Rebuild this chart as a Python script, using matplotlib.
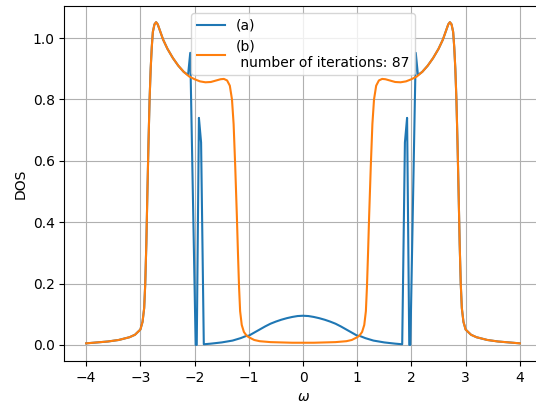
import numpy as np
import matplotlib.pyplot as plt

# left half (omega <= 0); curves are symmetric in omega
w_b = [-4.00, -3.80, -3.60, -3.40, -3.20, -3.10, -3.00, -2.96, -2.93, -2.91,
       -2.89, -2.87, -2.85, -2.83, -2.81, -2.79, -2.77, -2.74, -2.71, -2.68,
       -2.64, -2.58, -2.50, -2.40, -2.30, -2.20, -2.10, -2.00, -1.90, -1.80,
       -1.70, -1.60, -1.52, -1.46, -1.40, -1.35, -1.31, -1.28, -1.25, -1.22,
       -1.20, -1.18, -1.16, -1.13, -1.09, -1.04, -1.00, -0.90, -0.80, -0.60,
       -0.40, -0.20, 0.00]
dos_b = [0.005, 0.008, 0.011, 0.016, 0.025, 0.033, 0.050, 0.075, 0.12, 0.20,
         0.33, 0.50, 0.66, 0.80, 0.90, 0.97, 1.02, 1.045, 1.052, 1.045,
         1.025, 0.995, 0.965, 0.935, 0.91, 0.89, 0.875, 0.866, 0.859, 0.856,
         0.857, 0.862, 0.866, 0.867, 0.862, 0.845, 0.80, 0.72, 0.58, 0.42,
         0.30, 0.19, 0.11, 0.065, 0.042, 0.030, 0.025, 0.016, 0.012, 0.009,
         0.008, 0.007, 0.007]

# (a) follows (b) on the outer band, then spikes and a dome in the middle
n_outer = 26  # points of (b) up to omega = -2.20
w_a_inner = [-2.12, -2.08, -1.98, -1.96, -1.92, -1.90, -1.88, -1.83,
             -1.70, -1.50, -1.30, -1.15, -1.05, -1.00, -0.90, -0.80, -0.70,
             -0.60, -0.50, -0.40, -0.30, -0.20, -0.10, 0.00]
dos_a_inner = [0.88, 0.952, 0.0, 0.0, 0.74, 0.70, 0.66, 0.002,
               0.004, 0.008, 0.014, 0.022, 0.029, 0.030, 0.040, 0.050, 0.060,
               0.069, 0.076, 0.082, 0.087, 0.091, 0.094, 0.095]

w_a = w_b[:n_outer] + w_a_inner
dos_a = dos_b[:n_outer] + dos_a_inner


def mirror(w, d):
    w = np.array(w)
    d = np.array(d)
    return np.concatenate([w, -w[-2::-1]]), np.concatenate([d, d[-2::-1]])


wa, da = mirror(w_a, dos_a)
wb, db = mirror(w_b, dos_b)

fig = plt.figure(figsize=(5.36, 4.05), dpi=100)
ax = fig.add_axes([0.1203, 0.1086, 0.890, 0.8765])
ax.plot(wa, da, label='(a)')
ax.plot(wb, db, label='(b)\n number of iterations: 87')
ax.set_xlabel(r'$\omega$')
ax.set_ylabel('DOS')
ax.grid(True)
ax.spines['right'].set_visible(False)
ax.legend(loc='upper center')
fig.savefig('out.png', dpi=100)
